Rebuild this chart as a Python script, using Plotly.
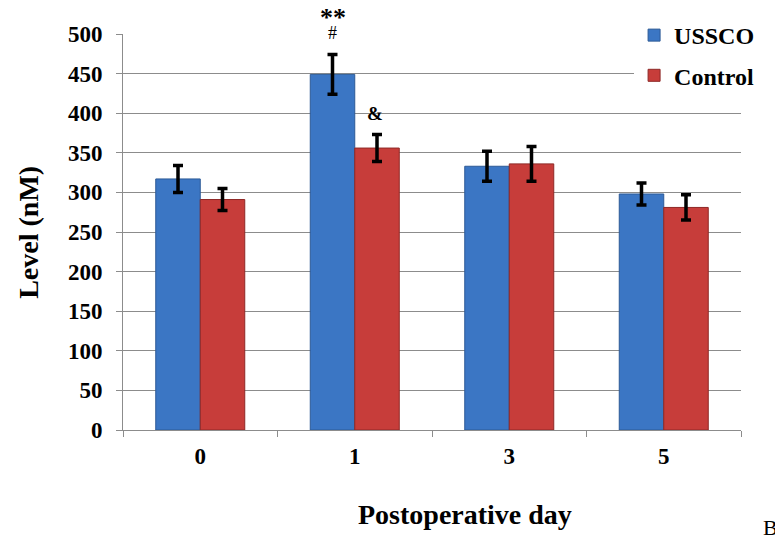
import plotly.graph_objects as go

days = ["0", "1", "3", "5"]
ussco = [317, 449, 333, 298]
ussco_err = [17, 25, 19, 14]
control = [291, 356, 336, 281]
control_err = [14, 17, 22, 16]
y_ticks = [0, 50, 100, 150, 200, 250, 300, 350, 400, 450, 500]

SERIF = "Liberation Serif"

fig = go.Figure()
fig.add_trace(go.Bar(
    name="USSCO", x=days, y=ussco, legendgroup="a",
    marker=dict(color="#3B76C4", line=dict(color="#2C5A96", width=1)),
    error_y=dict(type="data", array=ussco_err, color="black", thickness=3.5, width=5),
))
fig.add_trace(go.Bar(
    name="Control", x=days, y=control, legendgroup="b",
    marker=dict(color="#C73D3A", line=dict(color="#8E2826", width=1)),
    error_y=dict(type="data", array=control_err, color="black", thickness=3.5, width=5),
))

fig.update_layout(
    width=783, height=536,
    margin=dict(l=115, r=50, t=26, b=114, autoexpand=False),
    paper_bgcolor="white", plot_bgcolor="white",
    barmode="group", bargap=0.424, bargroupgap=0,
    font=dict(family=SERIF, color="black"),
    legend=dict(
        x=0.827, y=1.053, xanchor="left", yanchor="top",
        bgcolor="white", font=dict(family=SERIF, size=24, weight="bold"),
        tracegroupgap=6, itemwidth=30,
    ),
    showlegend=True,
)
fig.update_yaxes(
    range=[0, 500], tickvals=y_ticks, ticktext=[str(v) for v in y_ticks],
    showgrid=True, gridcolor="#8C8C8C", gridwidth=1,
    showline=True, linecolor="#8C8C8C", linewidth=1,
    ticks="outside", ticklen=6, tickcolor="#8C8C8C",
    tickfont=dict(family=SERIF, size=23, weight="bold"),
    ticklabelstandoff=9,
    zeroline=False,
)
fig.update_xaxes(
    type="category",
    showline=True, linecolor="#8C8C8C", linewidth=1,
    ticks="outside", ticklen=6, tickcolor="#8C8C8C", tickson="boundaries",
    tickfont=dict(family=SERIF, size=23, weight="bold"),
    ticklabelstandoff=5,
)

ann = []
ann.append(dict(text="Level (nM)", xref="paper", yref="paper", x=-0.154, y=0.5,
                xanchor="center", yanchor="middle",
                textangle=-90, showarrow=False,
                font=dict(family=SERIF, size=28, weight="bold")))
ann.append(dict(text="Postoperative day", xref="paper", yref="paper", x=0.553, y=-0.2146,
                xanchor="center", yanchor="middle",
                showarrow=False, font=dict(family=SERIF, size=28, weight="bold")))
ann.append(dict(text="B", xref="paper", yref="paper", x=1.047, y=-0.245,
                xanchor="center", yanchor="middle",
                showarrow=False, font=dict(family=SERIF, size=22)))
ann.append(dict(text="**", xref="x", yref="y", x="1", xshift=-22, y=500, yshift=17,
                xanchor="center", yanchor="middle",
                showarrow=False, font=dict(family=SERIF, size=26, weight="bold")))
ann.append(dict(text="#", xref="x", yref="y", x="1", xshift=-22, y=500, yshift=1,
                xanchor="center", yanchor="middle",
                showarrow=False, font=dict(family=SERIF, size=18)))
ann.append(dict(text="&", xref="x", yref="y", x="1", xshift=20, y=400,
                xanchor="center", yanchor="middle",
                showarrow=False, font=dict(family=SERIF, size=19, weight="bold")))
fig.update_layout(annotations=ann)

fig.write_html("out.html")
